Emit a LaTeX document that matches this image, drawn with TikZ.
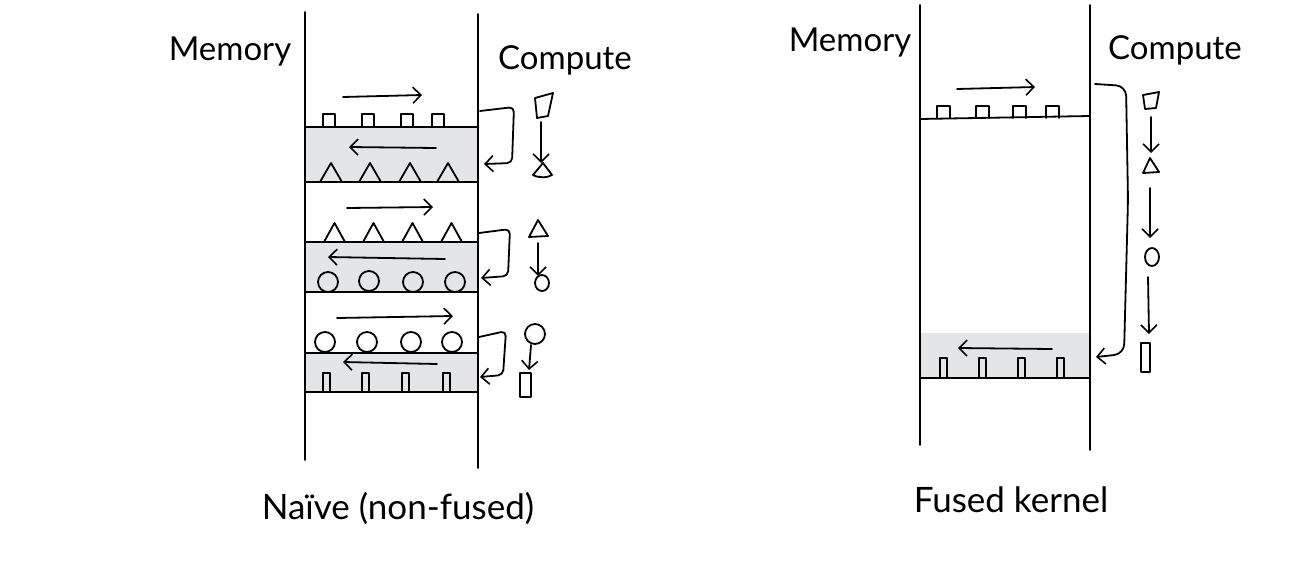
\documentclass[tikz,border=0pt]{standalone}
\usepackage{fontspec}
\setmainfont{Lato}
\usetikzlibrary{arrows.meta}
\definecolor{band}{RGB}{228,229,231}
\begin{document}
\begin{tikzpicture}[x=1pt,y=-1pt,line width=1.8pt,line join=round,line cap=round,
  arr/.style={-{Straight Barb[length=8pt,width=16pt,line width=1.6pt]}},
  conn/.style={arr,rounded corners=5pt},
  hand/.style={font=\fontsize{33}{36}\selectfont,inner sep=0pt},
  captiontext/.style={font=\fontsize{35}{40}\selectfont,inner sep=0pt},
  bandfill/.style={fill=band,draw=none}]
\useasboundingbox (0,0) rectangle (1292,560);

% ================= Left: naive =================
\fill[bandfill] (305,128) rectangle (478,182);
\fill[bandfill] (305,242) rectangle (478,292);
\fill[bandfill] (305,353) rectangle (478,392);
\draw (305,12) -- (305,460);
\draw (478,14) -- (478,468);
\foreach \y in {127,182,242,292,353,392} \draw (305,\y) -- (478,\y);

\node[hand] (memL) at (230,52) {Memory};
\node[hand] (compL) at (565,60) {Compute};

% row 1
\foreach \x in {323,362,401,432} \draw (\x,114) rectangle ++(12,13);
\foreach \x in {320,359,399,437} \draw (\x,182) -- ++(11,-19) -- ++(11,19);
\coordinate (r1a) at (343,97); \coordinate (r1b) at (422,95);
\draw[arr] (r1a) -- (r1b);
\coordinate (l1a) at (436,148); \coordinate (l1b) at (349,147);
\draw[arr] (l1a) -- (l1b);
\coordinate (c1s) at (480,111); \coordinate (c1e) at (484,164);
\draw[conn] (c1s) -- (514,107) -- (512,163) -- (c1e);

% row 2
\coordinate (r2a) at (347,208); \coordinate (r2b) at (433,207);
\draw[arr] (r2a) -- (r2b);
\foreach \x in {324,363,402,441} \draw (\x,242) -- ++(10.5,-19) -- ++(10.5,19);
\coordinate (l2a) at (445,259); \coordinate (l2b) at (328,257);
\draw[arr] (l2a) -- (l2b);
\foreach \x/\y in {328/282,369/281,413/282,455/282} \draw (\x,\y) circle (10);
\coordinate (c2s) at (479,233); \coordinate (c2e) at (481,278);
\draw[conn] (c2s) -- (510,229) -- (508,276) -- (c2e);

% row 3
\coordinate (r3a) at (337,318); \coordinate (r3b) at (453,316);
\draw[arr] (r3a) -- (r3b);
\foreach \x in {325,367,411,452} \draw (\x,342) circle (10);
\coordinate (l3a) at (437,364); \coordinate (l3b) at (343,362);
\draw[arr] (l3a) -- (l3b);
\foreach \x in {323,362,402,443} \draw (\x,392) -- (\x,373) -- ++(7,0) -- ++(0,19);
\coordinate (c3s) at (479,337); \coordinate (c3e) at (480,377);
\draw[conn] (c3s) -- (506,331) -- (503,375) -- (c3e);

% compute column (left)
\draw (535,98) -- (553,93) -- (548,116) -- (537,118) -- cycle;
\coordinate (k1a) at (541,122); \coordinate (k1b) at (541,163);
\draw[arr] (k1a) -- (k1b);
\draw (543,163) -- (533,175) .. controls (538,178) and (548,178) .. (552,175) -- cycle;
\draw (538,220) -- (529,237) -- (548,236) -- cycle;
\coordinate (k2a) at (538,243); \coordinate (k2b) at (538,276);
\draw[arr] (k2a) -- (k2b);
\draw (542,283) ellipse [x radius=7,y radius=8];
\draw (535,334) circle (10);
\coordinate (k3a) at (531,345); \coordinate (k3b) at (529,370);
\draw[arr] (k3a) -- (k3b);
\draw (520,373) rectangle (531,397);

\node[captiontext] (capL) at (398,508) {Naïve (non-fused)};

% ================= Right: fused =================
\fill[bandfill] (920,333) rectangle (1090,378);
\draw (920,5) -- (920,445);
\draw (1090,5) -- (1090,450);
\draw (920,119) -- (1090,116);
\draw (920,378) -- (1090,378);

\node[hand] (memR) at (850,43) {Memory};
\node[hand] (compR) at (1175,50) {Compute};

\foreach \x in {937,976,1013,1046} \draw (\x,118) -- (\x,106) -- ++(13,0) -- ++(0,12);
\coordinate (rRa) at (957,89); \coordinate (rRb) at (1035,87);
\draw[arr] (rRa) -- (rRb);
\coordinate (lRa) at (1052,349); \coordinate (lRb) at (958,348);
\draw[arr] (lRa) -- (lRb);
\foreach \x in {940,979,1018,1057} \draw (\x,378) -- (\x,358) -- ++(7,0) -- ++(0,20);
\coordinate (cRs) at (1095,84); \coordinate (cRe) at (1096,357);
\draw[conn,rounded corners=10pt] (cRs) -- (1126,86) -- (1128,200) -- (1124,354) -- (cRe);

% compute column (right)
\draw (1143,95) -- (1159,92) -- (1156,108) -- (1145,109) -- cycle;
\coordinate (kRa) at (1151,117); \coordinate (kRb) at (1151,153);
\draw[arr] (kRa) -- (kRb);
\draw (1150,158) -- (1143,173) -- (1159,172) -- cycle;
\coordinate (kRc) at (1150,188); \coordinate (kRd) at (1150,238);
\draw[arr] (kRc) -- (kRd);
\draw (1152,257) ellipse [x radius=7,y radius=9];
\coordinate (kRe) at (1148,277); \coordinate (kRf) at (1149,334);
\draw[arr] (kRe) -- (kRf);
\draw (1141,343) rectangle (1150,372);

\node[captiontext] (capR) at (1011,500) {Fused kernel};
\end{tikzpicture}
\end{document}
